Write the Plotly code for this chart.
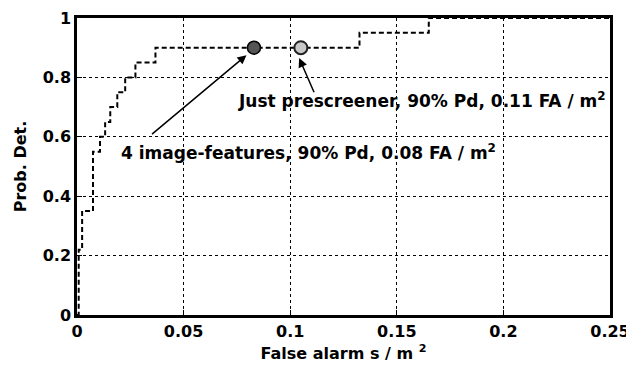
import plotly.graph_objects as go

# ROC curve (false alarms per m^2 vs probability of detection)
fa_rate = [0, 0.0008, 0.0024, 0.0071, 0.0075, 0.0108, 0.0132, 0.0156, 0.0189, 0.0226, 0.0274, 0.0368, 0.1325, 0.165, 0.25]
prob_det = [0, 0.22, 0.35, 0.35, 0.55, 0.60, 0.65, 0.70, 0.75, 0.80, 0.85, 0.90, 0.95, 1.0, 1.0]

# operating points
feat_fa, feat_pd = [0.083], [0.90]
pre_fa, pre_pd = [0.105], [0.90]

x_ticks = [0, 0.05, 0.1, 0.15, 0.2, 0.25]
x_tick_labels = ["0", "0.05", "0.1", "0.15", "0.2", "0.25"]
y_ticks = [0, 0.2, 0.4, 0.6, 0.8, 1.0]
y_tick_labels = ["0", "0.2", "0.4", "0.6", "0.8", "1"]

font_family = "DejaVu Sans, Liberation Sans, Arial, sans-serif"

fig = go.Figure()
fig.add_trace(go.Scatter(
    x=fa_rate, y=prob_det, mode="lines", line_shape="hv",
    line=dict(color="black", width=2, dash="5px,3px"), showlegend=False,
))
fig.add_trace(go.Scatter(
    x=feat_fa, y=feat_pd, mode="markers",
    marker=dict(size=13, color="#555555", line=dict(color="black", width=1.5)), showlegend=False,
))
fig.add_trace(go.Scatter(
    x=pre_fa, y=pre_pd, mode="markers",
    marker=dict(size=13, color="#c8c8c8", line=dict(color="#222222", width=2)), showlegend=False,
))

ann_font = dict(family=font_family, size=17, color="black")
fig.add_annotation(x=0.1042, y=0.865, ax=0.1115, ay=0.745, xref="x", yref="y", axref="x", ayref="y",
                   showarrow=True, arrowhead=2, arrowsize=1.2, arrowwidth=1.5, arrowcolor="black", text="")
fig.add_annotation(x=0.0795, y=0.875, ax=0.0345, ay=0.605, xref="x", yref="y", axref="x", ayref="y",
                   showarrow=True, arrowhead=2, arrowsize=1.2, arrowwidth=1.5, arrowcolor="black", text="")
fig.add_annotation(x=0.1618, y=0.724, xref="x", yref="y", showarrow=False,
                   text="<b>Just prescreener, 90% Pd, 0.11 FA / m<sup>2</sup></b>", font=ann_font, bgcolor="rgba(0,0,0,0)")
fig.add_annotation(x=0.1085, y=0.55, xref="x", yref="y", showarrow=False,
                   text="<b>4 image-features, 90% Pd, 0.08 FA / m<sup>2</sup></b>", font=ann_font, bgcolor="rgba(0,0,0,0)")

axis_common = dict(
    showline=True, linewidth=2.5, linecolor="black", mirror=True,
    showgrid=True, gridcolor="black", gridwidth=1, griddash="3px,3px",
    zeroline=False, ticks="inside", ticklen=5, tickcolor="black",
    tickfont=dict(family=font_family, size=16, color="black"),
    automargin=False,
)
fig.update_xaxes(range=[0, 0.25], tickvals=x_ticks, ticktext=["<b>%s</b>" % t for t in x_tick_labels],
                 title=dict(text="<b>False alarm s / m <sup>2</sup></b>", font=dict(family=font_family, size=16, color="black"), standoff=8),
                 **axis_common)
fig.update_yaxes(range=[0, 1], tickvals=y_ticks, ticktext=["<b>%s</b>" % t for t in y_tick_labels],
                 title=dict(text="<b>Prob. Det.</b>", font=dict(family=font_family, size=16, color="black"), standoff=13),
                 **axis_common)

# page body adds an 8px offset, so the figure is sized to fit the window
fig.update_layout(
    width=626, height=368,
    margin=dict(l=69, r=24, t=10, b=61),
    paper_bgcolor="white", plot_bgcolor="white",
)
fig.write_html("out.html")
